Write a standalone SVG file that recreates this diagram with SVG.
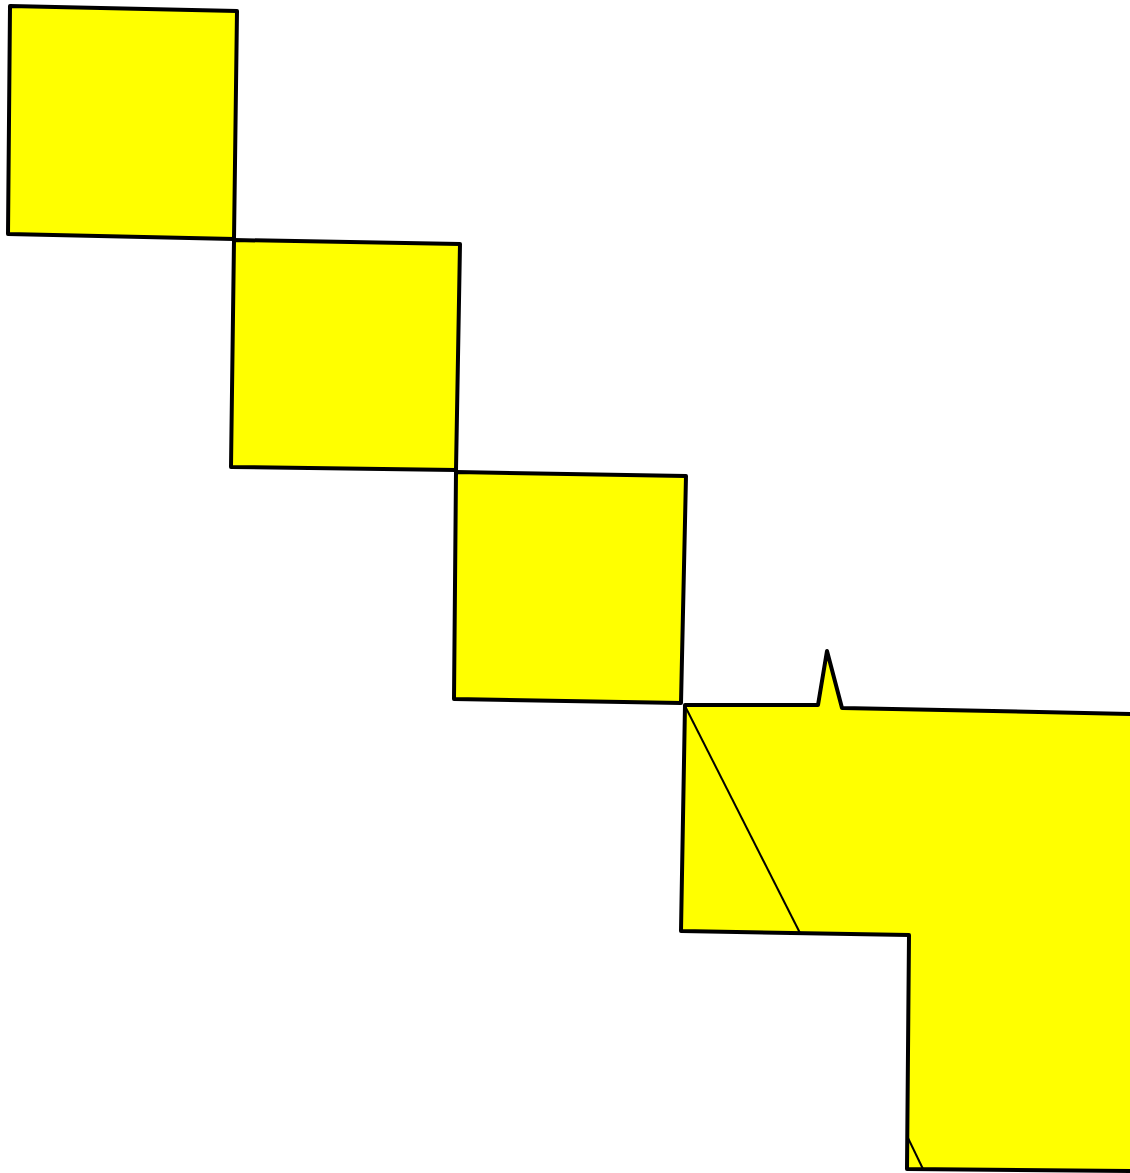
<svg xmlns="http://www.w3.org/2000/svg" width="1130" height="1173" viewBox="0 0 1130 1173">
<style>
.sq{fill:#ffff00;stroke:#000;stroke-width:4;stroke-linejoin:round}
.ln{fill:none;stroke:#000;stroke-width:2}
</style>
<rect width="1130" height="1173" fill="#fff"/>
<g id="square1"><polygon class="sq" points="10,6 237,11 234,239 8,234"/></g>
<g id="square2"><polygon class="sq" points="234,240 460,244 456,470 231,467"/></g>
<g id="square3"><polygon class="sq" points="456,472 686,476 681,703 454,699"/></g>
<g id="shape4">
<polygon class="sq" points="685,705 818,705 827,651 842,708 1134,714 1134,1171 907,1169 909,935 681,931"/>
</g>
<g id="connectors">
<line class="ln" x1="686" y1="708" x2="800" y2="933"/>
<line class="ln" x1="908" y1="1138" x2="923" y2="1169"/>
</g>
</svg>
